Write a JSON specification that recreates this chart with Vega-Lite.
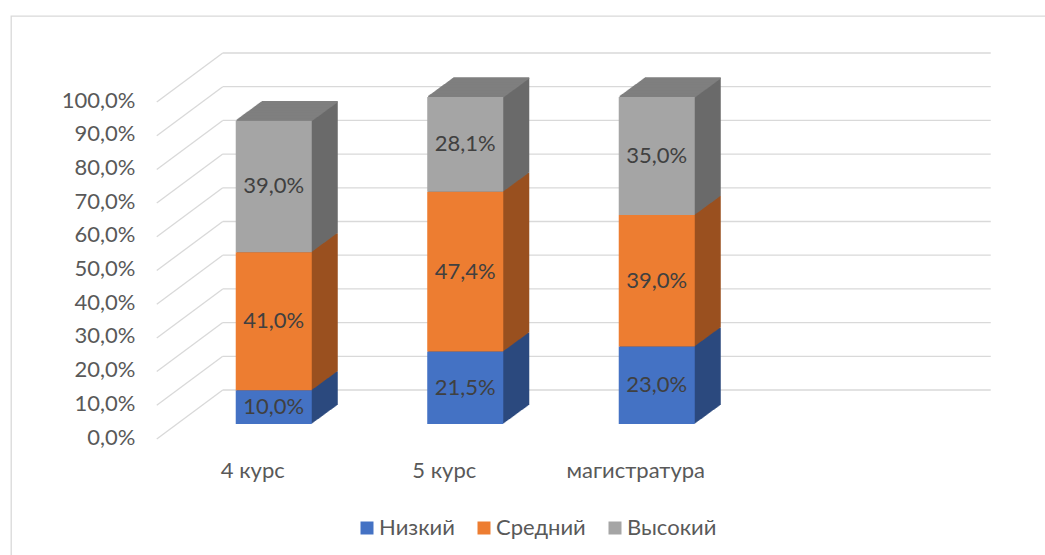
{
  "$schema": "https://vega.github.io/schema/vega-lite/v6.json",
  "width": 1034,
  "height": 539,
  "autosize": "none",
  "padding": {"left": 11, "top": 16, "right": 0, "bottom": 0},
  "background": "white",
  "config": {
    "view": {"stroke": "#d9d9d9", "strokeWidth": 1.3, "strokeDash": [1034, 1573, 539, 0]},
    "font": "Lato"
  },
  "datasets": {
    "bars": [
      {"course": "4 курс", "level": "Низкий", "value": 10.0},
      {"course": "4 курс", "level": "Средний", "value": 41.0},
      {"course": "4 курс", "level": "Высокий", "value": 39.0},
      {"course": "5 курс", "level": "Низкий", "value": 21.5},
      {"course": "5 курс", "level": "Средний", "value": 47.4},
      {"course": "5 курс", "level": "Высокий", "value": 28.1},
      {"course": "магистратура", "level": "Низкий", "value": 23.0},
      {"course": "магистратура", "level": "Средний", "value": 39.0},
      {"course": "магистратура", "level": "Высокий", "value": 35.0}
    ],
    "grid": [
      {"t": 0}, {"t": 10}, {"t": 20}, {"t": 30}, {"t": 40}, {"t": 50},
      {"t": 60}, {"t": 70}, {"t": 80}, {"t": 90}, {"t": 100}
    ]
  },
  "layer": [
    {
      "data": {"name": "grid"},
      "layer": [
        {
          "mark": {"type": "rule", "color": "#d9d9d9", "strokeWidth": 1.3, "xOffset": -51, "x2Offset": 717, "yOffset": -34, "y2Offset": -34},
          "encoding": {
            "x": {"datum": "4 курс", "type": "nominal"},
            "x2": {"datum": "4 курс"},
            "y": {
              "field": "t", "type": "quantitative",
              "scale": {"domain": [0, 100], "range": [408, 71]},
              "axis": {
                "title": null,
                "values": [0, 10, 20, 30, 40, 50, 60, 70, 80, 90, 100],
                "labelExpr": "replace(format(datum.value, '.1f'), '.', ',') + '%'",
                "domain": false, "ticks": false, "tickSize": 0, "grid": false,
                "labelPadding": 0, "offset": -124, "labelOffset": 13,
                "labelFontSize": 22, "labelColor": "#595959", "labelFont": "Lato",
                "labelOverlap": false
              }
            },
            "y2": {"field": "t"}
          }
        },
        {
          "mark": {"type": "rule", "color": "#d9d9d9", "strokeWidth": 1.3, "xOffset": -117, "x2Offset": -51, "yOffset": 15, "y2Offset": -34},
          "encoding": {
            "x": {"datum": "4 курс", "type": "nominal"},
            "x2": {"datum": "4 курс"},
            "y": {"field": "t", "type": "quantitative"},
            "y2": {"field": "t"}
          }
        }
      ]
    },
    {
      "data": {"name": "bars"},
      "transform": [
        {"calculate": "indexof(['Низкий','Средний','Высокий'], datum.level)", "as": "ord"},
        {"stack": "value", "groupby": ["course"], "sort": [{"field": "ord", "order": "ascending"}], "as": ["v0", "v1"]},
        {"calculate": "(datum.v0 + datum.v1) / 2", "as": "mid"},
        {"calculate": "replace(format(datum.value, '.1f'), '.', ',') + '%'", "as": "label"}
      ],
      "encoding": {
        "x": {
          "field": "course", "type": "nominal",
          "scale": {"domain": ["4 курс", "5 курс", "магистратура"], "range": [167, 741.5], "paddingInner": 0.603, "paddingOuter": 0.3015},
          "axis": {
            "title": null, "domain": false, "ticks": false, "tickSize": 0, "grid": false,
            "labelPadding": 0, "offset": -78, "labelBaseline": "alphabetic", "labelAlign": "center", "labelOffset": -21,
            "labelAngle": 0, "labelFontSize": 22, "labelColor": "#595959", "labelFont": "Lato"
          }
        }
      },
      "layer": [
        {
          "encoding": {
            "y": {"field": "v1", "type": "quantitative", "scale": {"domain": [0, 100], "range": [408, 71]}},
            "y2": {"field": "v0"},
            "color": {
              "field": "level", "type": "nominal",
              "scale": {"domain": ["Низкий", "Средний", "Высокий"], "range": ["#2C4A7F", "#9A5120", "#6B6B6B"]},
              "legend": null
            }
          },
          "layer": [
            {"mark": {"type": "bar", "xOffset": 26, "x2Offset": 26, "yOffset": -19, "y2Offset": -19}},
            {"mark": {"type": "bar", "xOffset": 25, "x2Offset": 25, "yOffset": -18.27, "y2Offset": -18.27}},
            {"mark": {"type": "bar", "xOffset": 24, "x2Offset": 24, "yOffset": -17.54, "y2Offset": -17.54}},
            {"mark": {"type": "bar", "xOffset": 23, "x2Offset": 23, "yOffset": -16.81, "y2Offset": -16.81}},
            {"mark": {"type": "bar", "xOffset": 22, "x2Offset": 22, "yOffset": -16.08, "y2Offset": -16.08}},
            {"mark": {"type": "bar", "xOffset": 21, "x2Offset": 21, "yOffset": -15.35, "y2Offset": -15.35}},
            {"mark": {"type": "bar", "xOffset": 20, "x2Offset": 20, "yOffset": -14.62, "y2Offset": -14.62}},
            {"mark": {"type": "bar", "xOffset": 19, "x2Offset": 19, "yOffset": -13.88, "y2Offset": -13.88}},
            {"mark": {"type": "bar", "xOffset": 18, "x2Offset": 18, "yOffset": -13.15, "y2Offset": -13.15}},
            {"mark": {"type": "bar", "xOffset": 17, "x2Offset": 17, "yOffset": -12.42, "y2Offset": -12.42}},
            {"mark": {"type": "bar", "xOffset": 16, "x2Offset": 16, "yOffset": -11.69, "y2Offset": -11.69}},
            {"mark": {"type": "bar", "xOffset": 15, "x2Offset": 15, "yOffset": -10.96, "y2Offset": -10.96}},
            {"mark": {"type": "bar", "xOffset": 14, "x2Offset": 14, "yOffset": -10.23, "y2Offset": -10.23}},
            {"mark": {"type": "bar", "xOffset": 13, "x2Offset": 13, "yOffset": -9.5, "y2Offset": -9.5}},
            {"mark": {"type": "bar", "xOffset": 12, "x2Offset": 12, "yOffset": -8.77, "y2Offset": -8.77}},
            {"mark": {"type": "bar", "xOffset": 11, "x2Offset": 11, "yOffset": -8.04, "y2Offset": -8.04}},
            {"mark": {"type": "bar", "xOffset": 10, "x2Offset": 10, "yOffset": -7.31, "y2Offset": -7.31}},
            {"mark": {"type": "bar", "xOffset": 9, "x2Offset": 9, "yOffset": -6.58, "y2Offset": -6.58}},
            {"mark": {"type": "bar", "xOffset": 8, "x2Offset": 8, "yOffset": -5.85, "y2Offset": -5.85}},
            {"mark": {"type": "bar", "xOffset": 7, "x2Offset": 7, "yOffset": -5.12, "y2Offset": -5.12}},
            {"mark": {"type": "bar", "xOffset": 6, "x2Offset": 6, "yOffset": -4.38, "y2Offset": -4.38}},
            {"mark": {"type": "bar", "xOffset": 5, "x2Offset": 5, "yOffset": -3.65, "y2Offset": -3.65}},
            {"mark": {"type": "bar", "xOffset": 4, "x2Offset": 4, "yOffset": -2.92, "y2Offset": -2.92}},
            {"mark": {"type": "bar", "xOffset": 3, "x2Offset": 3, "yOffset": -2.19, "y2Offset": -2.19}},
            {"mark": {"type": "bar", "xOffset": 2, "x2Offset": 2, "yOffset": -1.46, "y2Offset": -1.46}},
            {"mark": {"type": "bar", "xOffset": 1, "x2Offset": 1, "yOffset": -0.73, "y2Offset": -0.73}}
          ]
        },
        {
          "transform": [{"filter": "datum.level === 'Высокий'"}],
          "encoding": {
            "y": {"field": "v1", "type": "quantitative"}
          },
          "layer": [
            {"mark": {"type": "tick", "color": "#7F7F7F", "size": 76, "thickness": 1.6, "opacity": 1, "xOffset": 26, "yOffset": -19}},
            {"mark": {"type": "tick", "color": "#7F7F7F", "size": 76, "thickness": 1.6, "opacity": 1, "xOffset": 25, "yOffset": -18.27}},
            {"mark": {"type": "tick", "color": "#7F7F7F", "size": 76, "thickness": 1.6, "opacity": 1, "xOffset": 24, "yOffset": -17.54}},
            {"mark": {"type": "tick", "color": "#7F7F7F", "size": 76, "thickness": 1.6, "opacity": 1, "xOffset": 23, "yOffset": -16.81}},
            {"mark": {"type": "tick", "color": "#7F7F7F", "size": 76, "thickness": 1.6, "opacity": 1, "xOffset": 22, "yOffset": -16.08}},
            {"mark": {"type": "tick", "color": "#7F7F7F", "size": 76, "thickness": 1.6, "opacity": 1, "xOffset": 21, "yOffset": -15.35}},
            {"mark": {"type": "tick", "color": "#7F7F7F", "size": 76, "thickness": 1.6, "opacity": 1, "xOffset": 20, "yOffset": -14.62}},
            {"mark": {"type": "tick", "color": "#7F7F7F", "size": 76, "thickness": 1.6, "opacity": 1, "xOffset": 19, "yOffset": -13.88}},
            {"mark": {"type": "tick", "color": "#7F7F7F", "size": 76, "thickness": 1.6, "opacity": 1, "xOffset": 18, "yOffset": -13.15}},
            {"mark": {"type": "tick", "color": "#7F7F7F", "size": 76, "thickness": 1.6, "opacity": 1, "xOffset": 17, "yOffset": -12.42}},
            {"mark": {"type": "tick", "color": "#7F7F7F", "size": 76, "thickness": 1.6, "opacity": 1, "xOffset": 16, "yOffset": -11.69}},
            {"mark": {"type": "tick", "color": "#7F7F7F", "size": 76, "thickness": 1.6, "opacity": 1, "xOffset": 15, "yOffset": -10.96}},
            {"mark": {"type": "tick", "color": "#7F7F7F", "size": 76, "thickness": 1.6, "opacity": 1, "xOffset": 14, "yOffset": -10.23}},
            {"mark": {"type": "tick", "color": "#7F7F7F", "size": 76, "thickness": 1.6, "opacity": 1, "xOffset": 13, "yOffset": -9.5}},
            {"mark": {"type": "tick", "color": "#7F7F7F", "size": 76, "thickness": 1.6, "opacity": 1, "xOffset": 12, "yOffset": -8.77}},
            {"mark": {"type": "tick", "color": "#7F7F7F", "size": 76, "thickness": 1.6, "opacity": 1, "xOffset": 11, "yOffset": -8.04}},
            {"mark": {"type": "tick", "color": "#7F7F7F", "size": 76, "thickness": 1.6, "opacity": 1, "xOffset": 10, "yOffset": -7.31}},
            {"mark": {"type": "tick", "color": "#7F7F7F", "size": 76, "thickness": 1.6, "opacity": 1, "xOffset": 9, "yOffset": -6.58}},
            {"mark": {"type": "tick", "color": "#7F7F7F", "size": 76, "thickness": 1.6, "opacity": 1, "xOffset": 8, "yOffset": -5.85}},
            {"mark": {"type": "tick", "color": "#7F7F7F", "size": 76, "thickness": 1.6, "opacity": 1, "xOffset": 7, "yOffset": -5.12}},
            {"mark": {"type": "tick", "color": "#7F7F7F", "size": 76, "thickness": 1.6, "opacity": 1, "xOffset": 6, "yOffset": -4.38}},
            {"mark": {"type": "tick", "color": "#7F7F7F", "size": 76, "thickness": 1.6, "opacity": 1, "xOffset": 5, "yOffset": -3.65}},
            {"mark": {"type": "tick", "color": "#7F7F7F", "size": 76, "thickness": 1.6, "opacity": 1, "xOffset": 4, "yOffset": -2.92}},
            {"mark": {"type": "tick", "color": "#7F7F7F", "size": 76, "thickness": 1.6, "opacity": 1, "xOffset": 3, "yOffset": -2.19}},
            {"mark": {"type": "tick", "color": "#7F7F7F", "size": 76, "thickness": 1.6, "opacity": 1, "xOffset": 2, "yOffset": -1.46}},
            {"mark": {"type": "tick", "color": "#7F7F7F", "size": 76, "thickness": 1.6, "opacity": 1, "xOffset": 1, "yOffset": -0.73}}
          ]
        },
        {
          "mark": {"type": "bar"},
          "encoding": {
            "y": {"field": "v1", "type": "quantitative"},
            "y2": {"field": "v0"},
            "color": {
              "field": "level", "type": "nominal",
              "scale": {"domain": ["Низкий", "Средний", "Высокий"], "range": ["#4472C4", "#ED7D31", "#A5A5A5"]},
              "legend": {
                "title": null, "orient": "none", "direction": "horizontal",
                "legendX": 345, "legendY": 501,
                "symbolType": "square", "symbolSize": 169, "symbolStrokeWidth": 0,
                "labelFontSize": 22, "labelColor": "#595959", "labelFont": "Lato",
                "labelOffset": 1, "columnPadding": 18
              }
            }
          }
        },
        {
          "mark": {"type": "text", "fontSize": 22, "color": "#404040", "baseline": "middle", "align": "center", "font": "Lato"},
          "encoding": {
            "y": {"field": "mid", "type": "quantitative"},
            "text": {"field": "label", "type": "nominal"}
          }
        }
      ],
      "resolve": {"scale": {"color": "independent"}}
    }
  ]
}
